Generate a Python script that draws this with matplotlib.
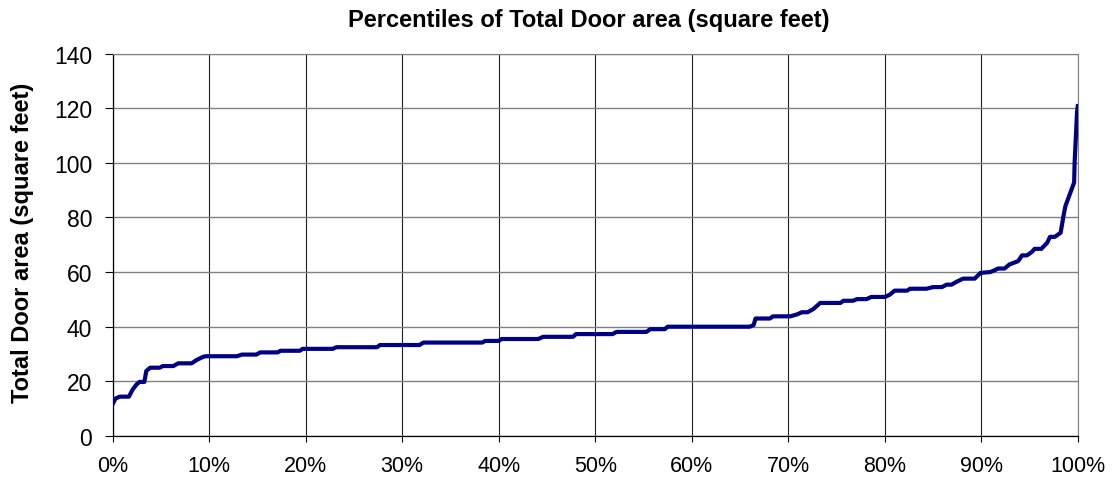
import numpy as np
import matplotlib
matplotlib.use("Agg")
import matplotlib.pyplot as plt

plt.rcParams["font.family"] = ["Liberation Sans", "DejaVu Sans"]

# percentile (%) and door area (sq ft)
pct = [0, 0.3, 0.75, 1.7, 2.1, 2.5, 2.8, 3.3, 3.5, 3.9, 4.9, 5.2, 6.3, 6.8, 8.2,
       8.7, 9.4, 9.7, 12.9, 13.4, 14.9, 15.3, 17.1, 17.4, 19.4, 19.7, 22.8,
       23.2, 27.4, 27.7, 31.8, 32.2, 38.3, 38.6, 40.0, 40.3, 44.1, 44.6, 47.7,
       48.0, 51.8, 52.2, 55.3, 55.7, 57.2, 57.5, 66.0, 66.4, 66.6, 68.1, 68.4,
       70.2, 70.9, 71.4, 72.0, 72.6, 73.3, 75.4, 75.7, 76.7, 77.1, 78.1, 78.6,
       80.0, 80.5, 81.0, 82.3, 82.6, 84.3, 85.0, 85.9, 86.4, 86.9, 87.5, 88.1,
       89.3, 89.9, 90.9, 91.4, 91.7, 92.4, 92.9, 93.8, 94.2, 94.7, 95.2, 95.5,
       96.2, 96.8, 97.1, 97.6, 98.2, 98.5, 98.7, 99.6, 99.65, 99.9, 100]
area = [11.5, 13.7, 14.4, 14.4, 17.1, 18.9, 19.8, 19.8, 23.8, 25.0, 25.0, 25.6,
        25.6, 26.6, 26.6, 27.8, 29.0, 29.2, 29.2, 29.8, 29.8, 30.6, 30.6, 31.2,
        31.2, 31.9, 31.9, 32.5, 32.5, 33.3, 33.3, 34.2, 34.2, 34.8, 34.8, 35.5,
        35.5, 36.3, 36.3, 37.3, 37.3, 38.1, 38.1, 39.1, 39.1, 40.0, 40.0, 40.6,
        43.0, 43.0, 43.8, 43.8, 44.5, 45.3, 45.3, 46.5, 48.7, 48.7, 49.5, 49.5,
        50.1, 50.1, 50.9, 50.9, 51.7, 53.2, 53.2, 53.9, 53.9, 54.5, 54.5, 55.4,
        55.4, 56.6, 57.6, 57.6, 59.7, 60.0, 60.7, 61.3, 61.3, 62.8, 64.0, 66.1,
        66.1, 67.3, 68.5, 68.5, 70.7, 72.9, 72.9, 74.4, 80.6, 84.2, 92.8, 100.1,
        118.5, 121.5]

xticks = list(range(0, 101, 10))
yticks = list(range(0, 141, 20))

fig = plt.figure(figsize=(11.14, 4.81), dpi=100)
ax = fig.add_axes([112.5 / 1114, 1 - 437 / 481, (1078 - 112.5) / 1114, (437 - 54.5) / 481])

ax.plot(pct, area, color="#000080", linewidth=3, solid_joinstyle="round",
        solid_capstyle="butt", zorder=3)

ax.set_xlim(0, 100)
ax.set_ylim(0, 140)
ax.set_xticks(xticks)
ax.set_xticklabels(["%d%%" % t for t in xticks])
ax.set_yticks(yticks)

ax.grid(axis="y", color="#808080", linewidth=1.0)
ax.grid(axis="x", color="#202020", linewidth=0.8)
ax.set_axisbelow(True)

for s in ["top", "right"]:
    ax.spines[s].set_color("#808080")
for s in ["left", "bottom"]:
    ax.spines[s].set_color("black")
    ax.spines[s].set_linewidth(0.9)

ax.tick_params(axis="y", direction="out", length=6, width=0.8, pad=8.5,
               labelsize=16.5, color="black")
ax.tick_params(axis="x", direction="out", length=4, width=0.8, pad=10,
               labelsize=15.5, color="black")

fig.text(588.5 / 1114, 1 - 26.7 / 481, "Percentiles of Total Door area (square feet)",
         ha="center", va="baseline", fontsize=17, fontweight="bold")
fig.text(23 / 1114, 1 - 242.5 / 481, "Total Door area (square feet)",
         ha="center", va="center", rotation=90, fontsize=17, fontweight="bold")

fig.savefig("out.png", dpi=100)
